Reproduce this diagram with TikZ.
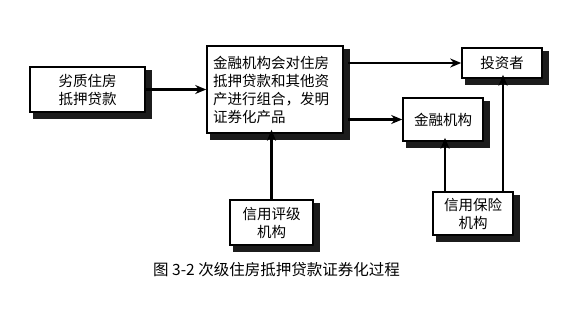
\documentclass[tikz,border=0pt]{standalone}
\usepackage{fontspec}
\newfontfamily\cjk{Noto Sans CJK SC}
\usetikzlibrary{positioning,arrows.meta,calc}
\definecolor{kantengrau}{RGB}{28,28,28}

\begin{document}
\begin{tikzpicture}[x=1pt, y=-1pt,
        kasten/.style={rectangle, draw=black, line width=1.6pt, fill=white, inner sep=2pt,
            align=center, font=\cjk\fontsize{14.5}{18}\selectfont},
        pfeil/.style={-{Stealth[length=11pt, width=9pt]}, line width=2.2pt},
        titel/.style={font=\cjk\fontsize{15.5}{18}\selectfont}
    ]
        \useasboundingbox (0,0) rectangle (565,313);

        \node[kasten, minimum width=115pt, minimum height=45pt] (hypothek) at (87.5,89.5) {劣质住房\\抵押贷款};
        \node[kasten, minimum width=136pt, minimum height=87pt, align=left, text width=124pt, inner xsep=6pt] (buendel) at (275,89.5)
            {金融机构会对住房\\抵押贷款和其他资\\产进行组合，发明\\证券化产品};
        \node[kasten, minimum width=80pt, minimum height=30pt] (anleger) at (502,63) {投资者};
        \node[kasten, minimum width=80pt, minimum height=43pt] (institut) at (443,119.5) {金融机构};
        \node[kasten, minimum width=83pt, minimum height=45pt] (rating) at (271.5,222.5) {信用评级\\机构};
        \node[kasten, minimum width=80pt, minimum height=43pt] (versicherer) at (473,213.5) {信用保险\\机构};

        % dunkle Kante rechts und unten an den Kaesten
        \foreach \kas in {hypothek,buendel,anleger,institut,rating,versicherer}{
            \path[fill=kantengrau, draw=kantengrau, line width=0.4pt]
                ($(\kas.north east)+(0,4)$) -- ($(\kas.north east)+(5,4)$)
                -- ($(\kas.south east)+(5,5)$) -- ($(\kas.south west)+(4,5)$)
                -- ($(\kas.south west)+(4,0)$) -- (\kas.south east) -- cycle;
        }

        \draw[pfeil] (hypothek.east) -- (buendel.west);
        \draw[pfeil] ([xshift=4pt]buendel.east |- anleger.west) -- (anleger.west);
        \draw[pfeil] ([xshift=4pt]buendel.east |- institut.west) -- (institut.west);
        \draw[pfeil, shorten >=-4pt] (rating.north) -- (rating.north |- buendel.south);
        \draw[pfeil, shorten >=-4pt] ([xshift=-28pt]versicherer.north) -- ([xshift=-28pt]versicherer.north |- institut.south);
        \draw[pfeil, shorten >=-4pt] ([xshift=30pt]versicherer.north) -- ([xshift=30pt]versicherer.north |- anleger.south);

        \node[titel] (bildtitel) at (276.5,270) {图 3-2 次级住房抵押贷款证券化过程};
    \end{tikzpicture}
\end{document}
